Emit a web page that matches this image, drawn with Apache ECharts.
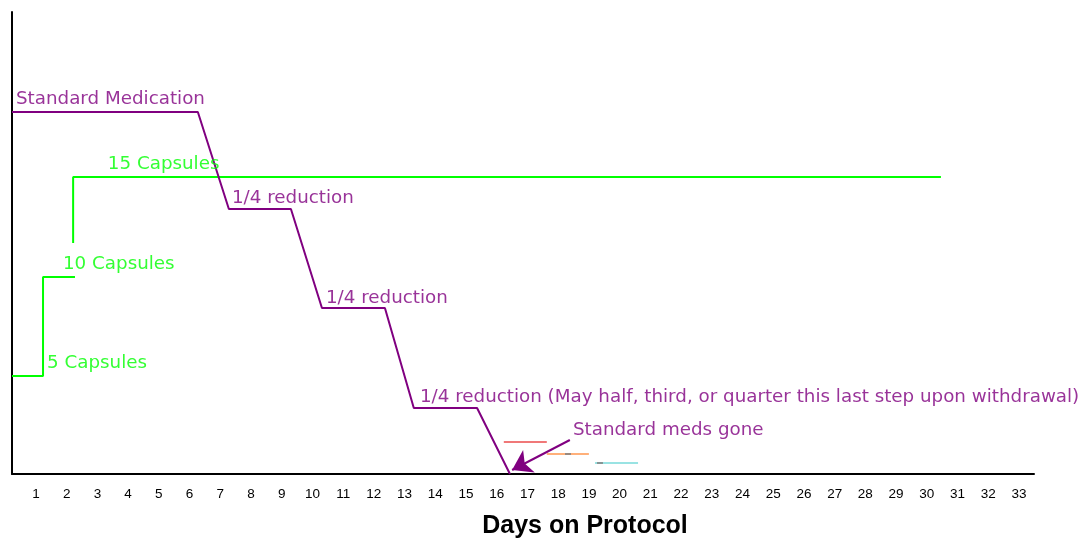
<!DOCTYPE html>
<html>
<head>
<meta charset="utf-8">
<script src="https://cdn.jsdelivr.net/npm/echarts@6/dist/echarts.min.js"></script>
<style>
html,body{margin:0;padding:0;background:#fff;}
#chart{width:1089px;height:538px;}
</style>
</head>
<body>
<div id="chart"></div>
<script>
// Tick labels (days)
const dayTicks = [1,2,3,4,5,6,7,8,9,10,11,12,13,14,15,16,17,18,19,20,21,22,23,24,25,26,27,28,29,30,31,32,33];

// Standard medication step-down: [day, level]
const medDays   = [0.22, 6.27, 7.28, 9.30, 10.31, 12.36, 13.30, 15.36, 16.43];
const medLevels = [362, 362, 265, 265, 166, 166, 66, 66, 0];

// Capsule ramp-up: [day, level]; null = gap in the line
const capDays   = [0.22, 1.23, 1.23, 2.27, null, 2.21, 2.21, 30.46];
const capLevels = [98, 98, 197, 197, null, 231, 297, 297];

// Short coloured marks after medication ends
const redDays = [16.23, 17.63];   const redLevels = [32, 32];
const orangeDays = [17.63, 19.0]; const orangeLevels = [20, 20];
const cyanDays = [19.2, 20.6];    const cyanLevels = [11, 11];
const greyMarkDays = [18.32, 19.36]; const greyMarkLevels = [20, 11];

// Annotations
const annoText  = ['Standard Medication','15 Capsules','1/4 reduction','10 Capsules','1/4 reduction','5 Capsules',
                   '1/4 reduction (May half, third, or quarter this last step upon withdrawal)','Standard meds gone'];
const annoDays  = [0.35, 3.34, 7.38, 1.88, 10.44, 1.36, 13.5, 18.48];
const annoLevels= [375, 310, 276, 210, 176, 111, 77, 44];
const annoGroup = ['med','cap','med','cap','med','cap','med','med'];

// Arrow pointing at end of medication
const arrowFrom = [18.38, 34];
const arrowTo   = [16.5, 4];

const PURPLE = '#800080';
const GREEN = '#00ff00';
const FONT = 'Liberation Sans, Arial, sans-serif';
const LFONT = 'DejaVu Sans, Verdana, sans-serif';

function zip(xs, ys){ return xs.map((x,i)=> x===null ? [null,null] : [x, ys[i]]); }

const chart = echarts.init(document.getElementById('chart'));
chart.setOption({
  animation: false,
  backgroundColor: '#ffffff',
  grid: {left: 12, right: 55, top: 12, bottom: 64, containLabel: false, outerBoundsMode: 'none'},
  xAxis: {
    type: 'value', min: 0.22, max: 33.49,
    splitLine: {show: false},
    axisTick: {show: false},
    axisLine: {show: true, onZero: false, lineStyle: {color: '#000', width: 2}},
    axisLabel: {customValues: dayTicks, color: '#000', fontSize: 13.5, fontFamily: FONT, margin: 13},
    name: 'Days on Protocol', nameLocation: 'middle', nameGap: 40,
    nameTextStyle: {color: '#000', fontSize: 25, fontWeight: 'bold', fontFamily: FONT, padding: [0,0,0,124]}
  },
  yAxis: {
    type: 'value', min: 0, max: 462,
    splitLine: {show: false}, axisTick: {show: false}, axisLabel: {show: false},
    axisLine: {show: true, onZero: false, lineStyle: {color: '#000', width: 2}}
  },
  series: [
    {type: 'line', data: zip(medDays, medLevels), showSymbol: false, symbol: 'none',
     lineStyle: {color: PURPLE, width: 2}, z: 3},
    {type: 'line', data: zip(capDays, capLevels), showSymbol: false, symbol: 'none', connectNulls: false,
     lineStyle: {color: GREEN, width: 2}, z: 2},
    {type: 'line', data: zip(redDays, redLevels), symbol: 'none', lineStyle: {color: '#f07878', width: 2}},
    {type: 'line', data: zip(orangeDays, orangeLevels), symbol: 'none', lineStyle: {color: '#ffb07a', width: 2}},
    {type: 'line', data: zip(cyanDays, cyanLevels), symbol: 'none', lineStyle: {color: '#99e3e3', width: 2}},
    {type: 'scatter', data: zip(greyMarkDays, greyMarkLevels), symbol: 'rect', symbolSize: [6,2],
     itemStyle: {color: '#808080'}, silent: true, z: 3},
    {type: 'lines', coordinateSystem: 'cartesian2d',
     data: [{coords: [arrowFrom, arrowTo]}],
     symbol: ['none', 'arrow'], symbolSize: 19,
     lineStyle: {color: PURPLE, width: 2, opacity: 1}, z: 4},
    {type: 'scatter', symbolSize: 0, z: 5,
     data: annoText.map((t,i)=>({
       value: [annoDays[i], annoLevels[i]],
       label: {show: true, formatter: t, position: [0,0], align: 'left', verticalAlign: 'middle',
               color: annoGroup[i]==='med' ? PURPLE : GREEN, fontSize: 18.3, fontFamily: LFONT}
     })),
     emphasis: {disabled: true}, silent: true}
  ]
});
</script>
</body>
</html>
